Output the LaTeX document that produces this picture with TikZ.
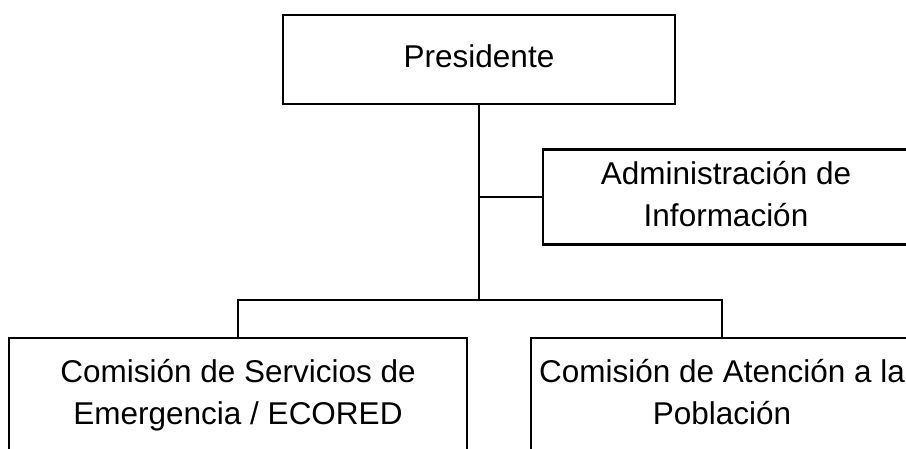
\documentclass[tikz,border=0pt]{standalone}
\usepackage{fontspec}
\setmainfont{Liberation Sans}
\usetikzlibrary{positioning,calc}

\begin{document}
\begin{tikzpicture}[x=0.025cm,y=-0.025cm]
\tikzstyle{every node}+=[inner sep=0pt]
\tikzstyle{unitbox}=[draw=black, line width=1.6pt, align=center, font=\fontsize{22.4}{29.8}\selectfont]
\tikzstyle{link}=[black, line width=1.6pt]
\useasboundingbox (0,0) rectangle (906,448);
\clip (0,0) rectangle (906,448);
\node [unitbox, minimum width=9.8cm, minimum height=2.225cm] (pres) at (479,59.5) {\strut Presidente};
\node [unitbox, minimum width=9.15cm, minimum height=2.375cm] (admin) at (726,197) {\strut Administración de\\\strut Información};
\node [unitbox, minimum width=11.45cm, minimum height=2.85cm] (ser) at (238,395) {\strut Comisión de Servicios de\\\strut Emergencia / ECORED};
\node [unitbox, minimum width=9.55cm, minimum height=2.85cm] (aten) at (722,395) {\strut Comisión de Atención a la\\\strut Población};
\coordinate (trunk) at (479,300);
\draw [link] (pres.south) -- (trunk);
\draw [link] (pres.south |- admin.west) -- (admin.west);
\draw [link] (ser.north) -- (ser.north |- trunk) -- (aten.north |- trunk) -- (aten.north);
\end{tikzpicture}
\end{document}
